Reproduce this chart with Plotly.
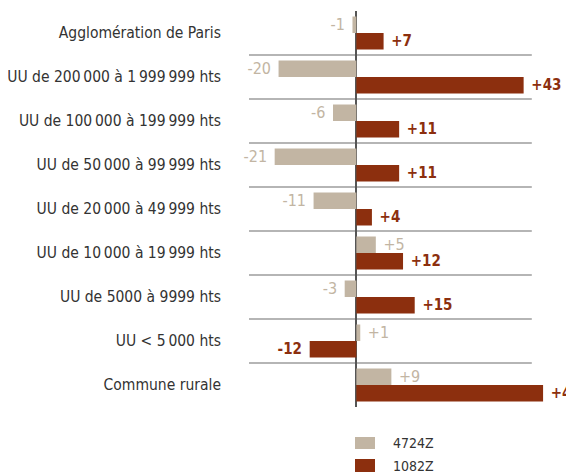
import plotly.graph_objects as go

categories = [
    "Agglomération de Paris",
    "UU de 200\u202f000 à 1\u202f999\u202f999 hts",
    "UU de 100\u202f000 à 199\u202f999 hts",
    "UU de 50\u202f000 à 99\u202f999 hts",
    "UU de 20\u202f000 à 49\u202f999 hts",
    "UU de 10\u202f000 à 19\u202f999 hts",
    "UU de 5000 à 9999 hts",
    "UU < 5\u202f000 hts",
    "Commune rurale",
]
series_names = ["4724Z", "1082Z"]
values_4724z = [-1, -20, -6, -21, -11, 5, -3, 1, 9]
values_1082z = [7, 43, 11, 11, 4, 12, 15, -12, 48]

colors = ["#c2b5a3", "#8c2f0e"]
FONT = "DejaVu Sans Condensed, Liberation Sans Narrow, Roboto, sans-serif"


def labels(vals):
    out = []
    for v in vals:
        if v >= 0:
            out.append("\u00a0+" + str(v))
        else:
            out.append("-" + str(abs(v)) + "\u00a0")
    return out


fig = go.Figure()
for name, vals, col, bold, size in [
    (series_names[0], values_4724z, colors[0], False, 16),
    (series_names[1], values_1082z, colors[1], True, 15),
]:
    fig.add_trace(go.Bar(
        y=categories, x=vals, name=name, orientation="h",
        marker=dict(color=col, line=dict(width=0)),
        text=labels(vals), textposition="outside", cliponaxis=False,
        constraintext="none",
        textfont=dict(color=col, size=size, family=FONT,
                      weight="bold" if bold else "normal"),
        showlegend=False,
    ))

x_min, x_sep_max = -27.6, 45.1
for i in range(len(categories) - 1):
    fig.add_shape(type="line", xref="x", yref="y",
                  x0=x_min, x1=x_sep_max, y0=i + 0.5, y1=i + 0.5,
                  line=dict(color="#9c9c9c", width=1.5), layer="below")

# custom legend (page px -> paper coords of plot area 249..574 x 11..407)
leg = [(series_names[0], colors[0], 437, 449), (series_names[1], colors[1], 459, 472)]
for name, col, t, b in leg:
    y0 = (407 - b) / 396
    y1 = (407 - t) / 396
    fig.add_shape(type="rect", xref="paper", yref="paper",
                  x0=(355 - 249) / 325, x1=(375 - 249) / 325, y0=y0, y1=y1,
                  fillcolor=col, line=dict(width=0))
    fig.add_annotation(xref="paper", yref="paper", x=(391 - 249) / 325,
                       y=(y0 + y1) / 2, text=name, showarrow=False,
                       xanchor="left", yanchor="middle",
                       font=dict(size=14, color="#333333", family=FONT))

# page body has an 8px margin: figure sits at (8, 8)
fig.update_layout(
    width=566, height=465,
    margin=dict(l=241, r=0, t=3, b=66, autoexpand=False),
    barmode="group", bargap=0.25, bargroupgap=0,
    plot_bgcolor="white", paper_bgcolor="white",
    font=dict(family=FONT, color="#333333"),
    xaxis=dict(range=[x_min, x_min + 325 / 3.89], showgrid=False,
               showticklabels=False, zeroline=True, zerolinecolor="#555555",
               zerolinewidth=2, fixedrange=True, automargin=False),
    yaxis=dict(autorange="reversed", showgrid=False, ticks="",
               tickfont=dict(size=15.5, color="#333333", family=FONT),
               ticklabelstandoff=27, fixedrange=True, automargin=False),
)

fig.write_html("out.html")
